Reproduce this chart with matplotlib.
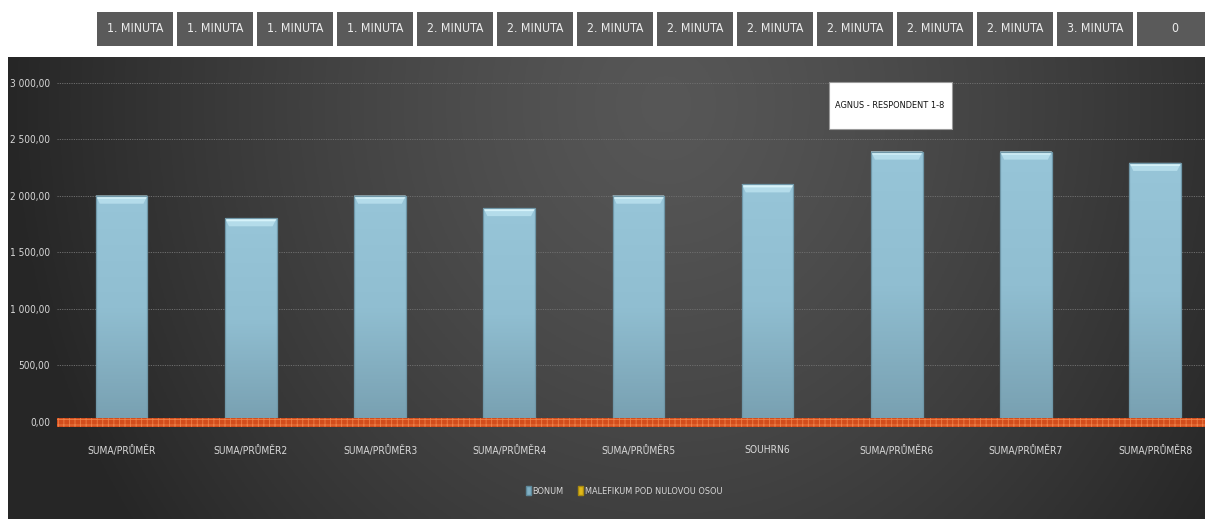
import numpy as np
import matplotlib
matplotlib.use("Agg")
import matplotlib.pyplot as plt
from matplotlib.patches import Rectangle, Patch
from matplotlib.ticker import FuncFormatter, MultipleLocator

plt.rcParams['font.family'] = ['DejaVu Sans']
plt.rcParams['font.stretch'] = 'condensed'
plt.rcParams['hatch.linewidth'] = 0.6

# data
categories = ["SUMA/PRŮMĚR", "SUMA/PRŮMĚR2", "SUMA/PRŮMĚR3", "SUMA/PRŮMĚR4",
              "SUMA/PRŮMĚR5", "SOUHRN6", "SUMA/PRŮMĚR6", "SUMA/PRŮMĚR7",
              "SUMA/PRŮMĚR8"]
bonum = [2000, 1800, 2000, 1890, 2000, 2100, 2390, 2390, 2290]
header_labels = ["1. MINUTA"] * 4 + ["2. MINUTA"] * 8 + ["3. MINUTA", "0"]
title = "AGNUS - RESPONDENT 1-8"
legend_labels = ["BONUM", "MALEFIKUM POD NULOVOU OSOU"]

W, H = 1205, 519
fig = plt.figure(figsize=(W / 100, H / 100), dpi=100)
fig.patch.set_facecolor("white")


def box(x, y, w, h):
    # pixel box (top-left origin) -> figure fraction rect
    return [x / W, 1 - (y + h) / H, w / W, h / H]


# dark gradient background of the chart area
bg = fig.add_axes(box(8, 57, W - 8, H - 57))
bg.set_axis_off()
gx = np.linspace(0, 1, 400)
gy = np.linspace(0, 1, 160)
X, Y = np.meshgrid(gx, gy)
d = np.sqrt(((X - 0.55) / 0.55) ** 2 + ((Y - 0.1) / 1.6) ** 2)
shade = 0.34 - 0.19 * np.clip(d, 0, 1) ** 1.3
bg.imshow(np.dstack([shade] * 3), aspect="auto", extent=(0, 1, 1, 0))

# header boxes along the top
for i, lab in enumerate(header_labels):
    x0 = 97 + i * 80
    r = Rectangle((x0 / W, 1 - 46 / H), 76 / W, 34 / H, transform=fig.transFigure,
                  facecolor="#5a5a5a", edgecolor="none")
    fig.patches.append(r)
    fig.text((x0 + 38) / W, 1 - 29 / H, lab, color="#ececec", fontsize=8.8,
             ha="center", va="center")

# main axes; right end runs past the figure edge
left_px, right_px = 57, 57 + 9 * 129.2
top_px, bottom_px = 70, 430
zero_px, px_per_unit = 421.7, 0.113
ax = fig.add_axes(box(left_px, top_px, right_px - left_px, bottom_px - top_px))
ax.set_facecolor("none")
for s in ax.spines.values():
    s.set_visible(False)

x = np.arange(len(categories))
ax.set_ylim(-(bottom_px - zero_px) / px_per_unit, (zero_px - top_px) / px_per_unit)

ax.yaxis.set_major_locator(MultipleLocator(500))
ax.yaxis.set_major_formatter(FuncFormatter(
    lambda v, p: f"{v:,.2f}".replace(",", " ").replace(".", ",")))
ax.tick_params(axis="y", length=0, pad=5, labelsize=7.2, labelcolor="#d8d8d8")
ax.tick_params(axis="x", length=0, pad=11, labelsize=7.4, labelcolor="#d8d8d8")
ax.set_xticks(x)
ax.set_xticklabels(categories)

for v in range(500, 3001, 500):
    ax.axhline(v, color="#6e6e6e", lw=0.7, ls=(0, (1.2, 1.2)), zorder=1)

# bars with vertical gradient and a bevelled light top
bw = 0.4
bars = ax.bar(x, bonum, width=bw, color="#93c2d5", edgecolor="none", zorder=3)
grad = np.linspace(0, 1, 100)[:, None]
cmap = matplotlib.colors.LinearSegmentedColormap.from_list(
    "barg", ["#97c5d8", "#90bed1", "#78a0b1"])
px = 1 / px_per_unit          # one pixel in data units (vertical)
dx = 1 / 129.2                # one pixel in category units (horizontal)
for b, v in zip(bars, bonum):
    x0, x1 = b.get_x(), b.get_x() + bw
    im = ax.imshow(grad, cmap=cmap, aspect="auto", zorder=3.5,
                   extent=(x0, x1, 0, v))
    im.set_clip_path(b)
    # bevel band under the rim
    ax.fill([x0, x1, x1 - 4 * dx, x0 + 4 * dx],
            [v, v, v - 8 * px, v - 8 * px], color="#b4dcea", zorder=4, lw=0)
    # bright rim
    ax.fill([x0, x1, x1 - 1.5 * dx, x0 + 1.5 * dx],
            [v, v, v - 3 * px, v - 3 * px], color="#d6f3fa", zorder=4.2, lw=0)
    ax.add_patch(Rectangle((x0, 0), bw, v, fill=False,
                           edgecolor="#6f97a8", lw=0.9, zorder=4.5))

ax.set_xlim(-0.5, len(categories) - 0.5)

# orange hatched band along the zero axis
ax.add_patch(Rectangle((-0.5, -44), len(categories), 80, facecolor="#d24d1c",
                       edgecolor="#ee8048", hatch="+++", lw=0, zorder=5))

# title box
fig.patches.append(Rectangle((829 / W, 1 - 129 / H), 123 / W, 47 / H,
                             transform=fig.transFigure, facecolor="white",
                             edgecolor="#9a9a9a", lw=0.8, zorder=6))
fig.text(890 / W, 1 - 106 / H, title, color="#111111", fontsize=6.6,
         ha="center", va="center", zorder=7)

handles = [Patch(facecolor="#7fb0c4", edgecolor="#5d8799"),
           Patch(facecolor="#e0b818", edgecolor="#a88a10")]
leg = fig.legend(handles, legend_labels, loc="center", ncol=2,
                 bbox_to_anchor=(624 / W, 1 - 491 / H), frameon=False,
                 fontsize=6.6, labelcolor="#d8d8d8", handlelength=0.55,
                 handleheight=1.1, handletextpad=0.15, columnspacing=1.6)

fig.savefig("out.png", dpi=100)
